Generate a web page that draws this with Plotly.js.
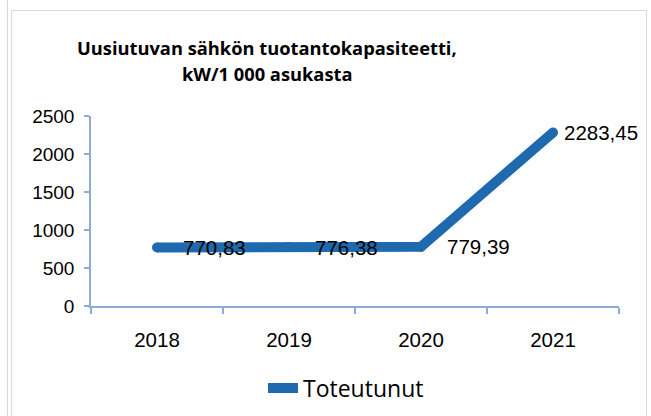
<!DOCTYPE html>
<html>
<head>
<meta charset="utf-8">
<script src="https://cdn.plot.ly/plotly-3.0.1.min.js"></script>
<style>
html,body{margin:0;padding:0;background:#fff;}
#wrap{position:relative;width:651px;height:416px;overflow:hidden;}
#lineL{position:absolute;left:7px;top:0;width:1px;height:416px;background:#d9d9d9;}
#box{position:absolute;left:11px;top:10px;width:636px;height:420px;border:1px solid #d9d9d9;box-sizing:border-box;}
#chart{position:absolute;left:0;top:0;width:651px;height:416px;}
#err{position:absolute;left:20px;top:20px;color:red;font:12px sans-serif;z-index:10;}
</style>
</head>
<body>
<div id="wrap">
<div id="lineL"></div>
<div id="box"></div>
<div id="chart"></div>
<div id="err"></div>
</div>
<script>
window.onerror = function(m){ document.getElementById('err').textContent += ' ' + m; };
window.addEventListener('unhandledrejection', e => { document.getElementById('err').textContent += ' ' + (e.reason && e.reason.message || e.reason); });

const years = ['2018', '2019', '2020', '2021'];
const values = [770.83, 776.38, 779.39, 2283.45];
const valueLabels = ['770,83', '776,38', '779,39', '2283,45'];
const labelShift = [24, 24, 24, 9];
const yTicks = [0, 500, 1000, 1500, 2000, 2500];
const seriesName = 'Toteutunut';
const titleLines = ['Uusiutuvan sähkön tuotantokapasiteetti,', 'kW/1 000 asukasta'];

const lineColor = '#1f6aae';
const axisColor = '#8faad6';
const labelFont = 'Liberation Sans, Arial, sans-serif';

const trace = {
  x: years,
  y: values,
  type: 'scatter',
  mode: 'lines',
  name: seriesName,
  line: {color: lineColor, width: 10},
  hoverinfo: 'skip'
};
const caps = {
  x: years,
  y: values,
  type: 'scatter',
  mode: 'markers',
  marker: {color: lineColor, size: 10},
  showlegend: false,
  hoverinfo: 'skip'
};

const annotations = years.map((yr, i) => ({
  x: i, y: values[i], xref: 'x', yref: 'y',
  text: valueLabels[i], showarrow: false,
  xanchor: 'left', yanchor: 'middle', xshift: labelShift[i],
  font: {family: labelFont, size: 20.5, color: '#000'}
}));
const titleY = [1.363, 1.226];
titleLines.forEach((t, i) => annotations.push({
  x: 0.334, y: titleY[i], xref: 'paper', yref: 'paper',
  text: '<b>' + t + '</b>', showarrow: false,
  xanchor: 'center', yanchor: 'middle',
  font: {family: 'Open Sans, sans-serif', size: 18.3, color: '#000'}
}));

const layout = {
  width: 651, height: 416,
  paper_bgcolor: 'rgba(0,0,0,0)', plot_bgcolor: 'rgba(0,0,0,0)',
  margin: {l: 91, r: 32, t: 116, b: 110},
  xaxis: {
    type: 'category', range: [-0.5, 3.5], tickson: 'boundaries',
    showline: true, linecolor: axisColor, linewidth: 1.5,
    ticks: 'outside', ticklen: 6, tickcolor: axisColor, tickwidth: 1.5,
    showgrid: false, zeroline: false,
    tickfont: {family: labelFont, size: 20.5, color: '#000'},
    ticklabelstandoff: 15,
    fixedrange: true
  },
  yaxis: {
    range: [0, 2500], tickvals: yTicks, ticktext: yTicks.map(String),
    showline: true, linecolor: axisColor, linewidth: 1.5,
    ticks: 'outside', ticklen: 5, tickcolor: axisColor, tickwidth: 1.5,
    showgrid: false, zeroline: false,
    tickfont: {family: labelFont, size: 19, color: '#000'},
    ticklabelstandoff: 6,
    fixedrange: true
  },
  showlegend: true,
  legend: {
    orientation: 'h', x: 346/651, xref: 'container', xanchor: 'center',
    y: 1 - 388/416, yref: 'container', yanchor: 'middle',
    font: {family: 'Open Sans, sans-serif', size: 23, color: '#000'}
  },
  annotations: annotations
};

Plotly.newPlot('chart', [trace, caps], layout, {displayModeBar: false});
</script>
</body>
</html>
